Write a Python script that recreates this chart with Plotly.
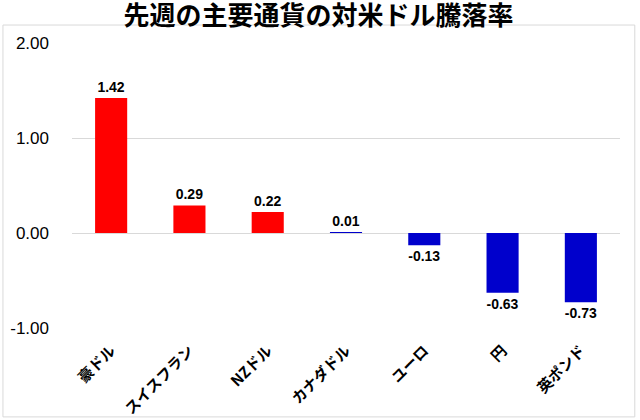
import plotly.graph_objects as go

currencies = ["豪ドル", "スイスフラン", "NZドル", "カナダドル", "ユーロ", "円", "英ポンド"]
changes = [1.42, 0.29, 0.22, 0.01, -0.13, -0.63, -0.73]
colors = ["#FF0000", "#FF0000", "#FF0000", "#0000CC", "#0000CC", "#0000CC", "#0000CC"]
y_ticks = [-1, 0, 1, 2]

fig = go.Figure()
fig.add_trace(go.Bar(
    x=currencies,
    y=changes,
    marker=dict(color=colors, line=dict(width=0)),
    width=0.41,
    text=["%.2f" % v for v in changes],
    textposition="outside",
    textfont=dict(family="Liberation Sans", size=14, color="black", weight="bold"),
    cliponaxis=False,
))

fig.update_layout(
    width=640,
    height=420,
    margin=dict(l=72, r=20, t=43, b=92),
    paper_bgcolor="white",
    plot_bgcolor="white",
    showlegend=False,
    title=dict(
        text="先週の主要通貨の対米ドル騰落率",
        x=0.4977, xanchor="center",
        y=0.961, yanchor="middle",
        font=dict(family="Noto Sans CJK JP", size=26, color="black", weight="bold"),
    ),
    xaxis=dict(
        tickangle=-45,
        tickfont=dict(family="Noto Sans CJK JP", size=15, color="black", weight="bold"),
        showline=False,
        ticks="",
        showgrid=False,
        range=[-0.5, 6.5],
        ticklabelstandoff=10,
        automargin=False,
    ),
    yaxis=dict(
        range=[-1, 2],
        tickvals=y_ticks,
        ticktext=["%.2f" % v for v in y_ticks],
        tickfont=dict(family="Liberation Sans", size=17, color="black"),
        showgrid=True,
        gridcolor="#D9D9D9",
        zeroline=True,
        zerolinecolor="#D9D9D9",
        zerolinewidth=1,
        showline=False,
        ticks="",
        ticklabelstandoff=22,
        automargin=False,
    ),
    shapes=[dict(
        type="rect", xref="paper", yref="paper",
        x0=-0.126, x1=1.027, y0=-0.312, y1=1.063,
        line=dict(color="#D9D9D9", width=1),
        layer="below",
    )],
)

fig.write_html("out.html", config={"displayModeBar": False},
               post_script="document.body.style.margin='0';")
